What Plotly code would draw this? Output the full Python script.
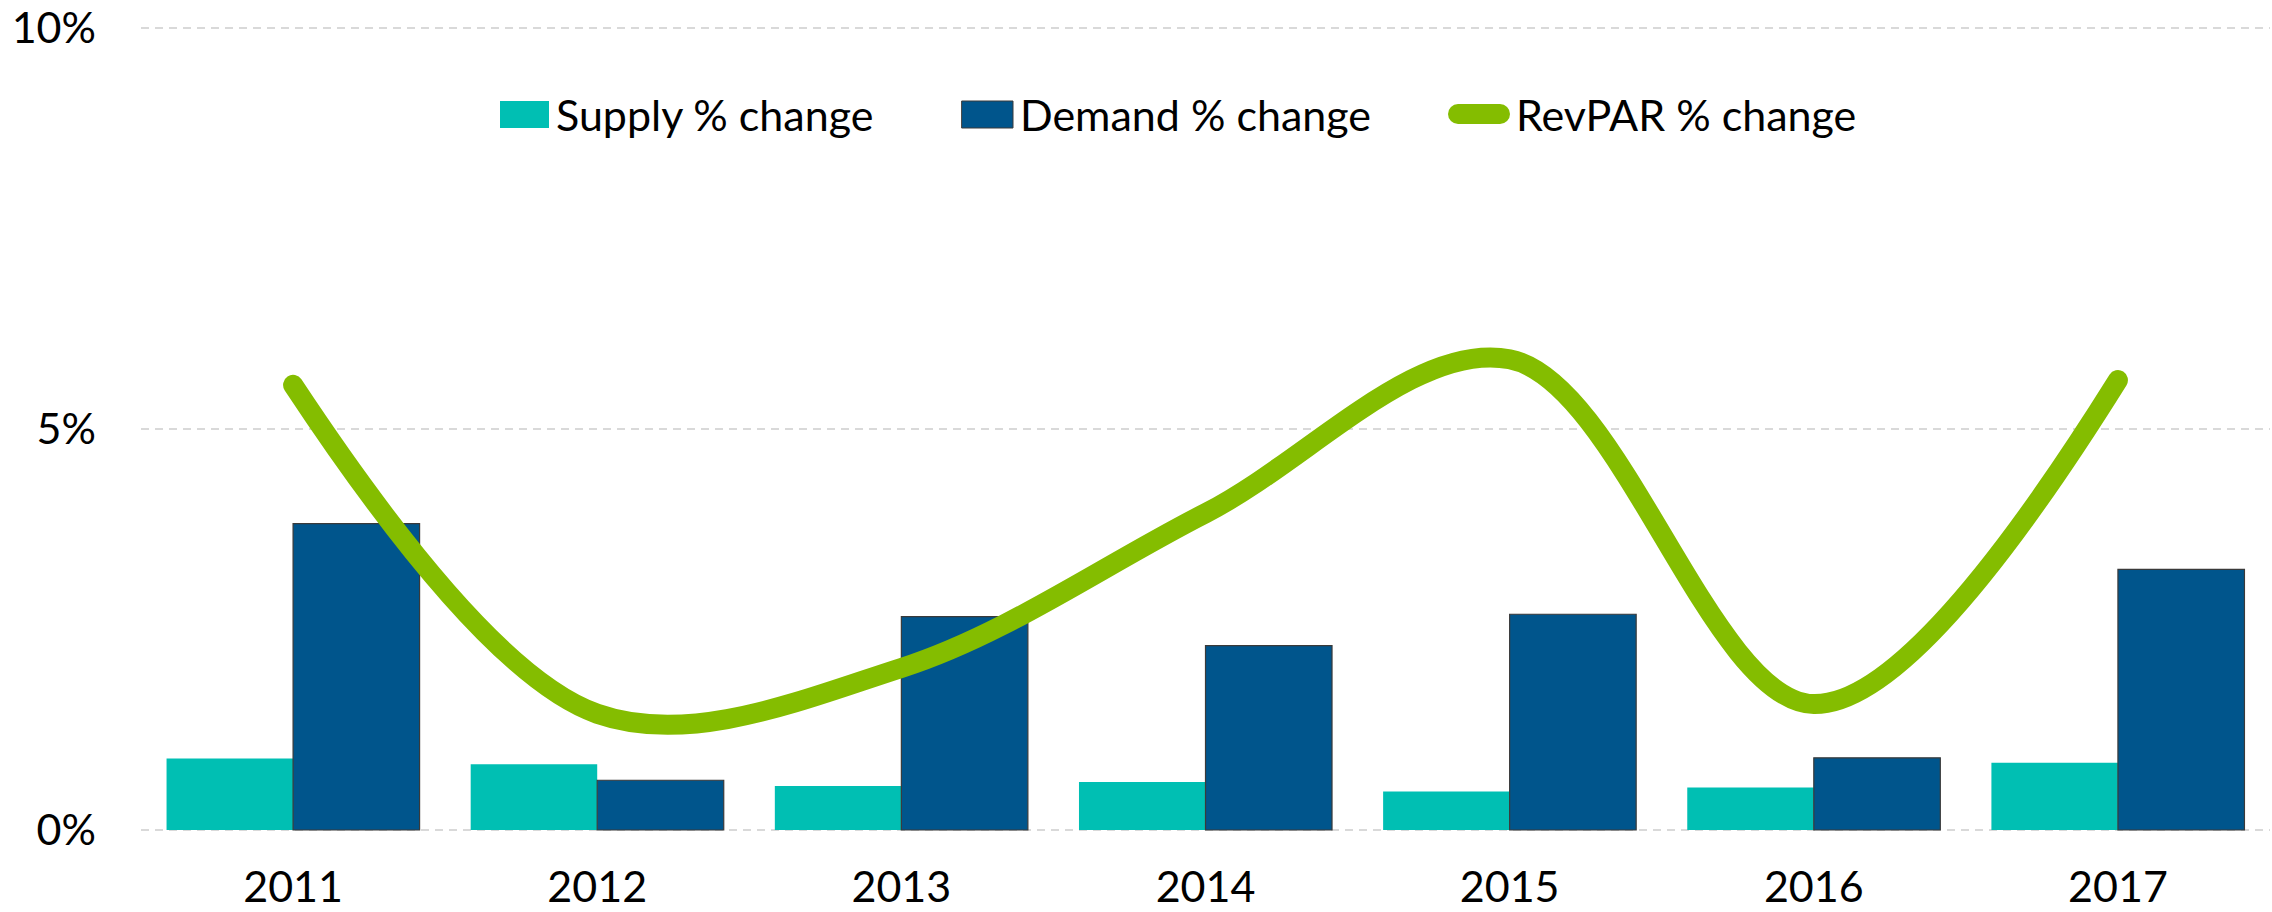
import plotly.graph_objects as go

years = ['2011', '2012', '2013', '2014', '2015', '2016', '2017']
supply_pct = [0.89, 0.82, 0.55, 0.60, 0.48, 0.53, 0.84]
demand_pct = [3.82, 0.62, 2.66, 2.30, 2.69, 0.90, 3.25]
revpar_pct = [5.55, 1.45, 2.02, 3.95, 5.87, 1.57, 5.61]
y_tick_vals = [0, 5, 10]
y_tick_text = ['0%', '5%', '10%']
series_names = ['Supply % change', 'Demand % change', 'RevPAR % change']

C_SUPPLY = '#00BFB3'
C_DEMAND = '#00558C'
C_REVPAR = '#84BD00'
FONT = 'Lato'

W, H = 2272, 912
ML, MR, MT, MB = 141, 2, 26, 80
PW, PH = W - ML - MR, H - MT - MB
Y_MIN, Y_MAX = -0.025, 10.025


def px(x):
    return (x - ML) / PW


def py(y):
    return (H - MB - y) / PH


fig = go.Figure()
fig.add_trace(go.Bar(x=years, y=supply_pct, name=series_names[0],
                     marker=dict(color=C_SUPPLY, line=dict(width=0)), showlegend=False))
fig.add_trace(go.Bar(x=years, y=demand_pct, name=series_names[1],
                     marker=dict(color=C_DEMAND, line=dict(width=1.2, color='#3a3a3a')),
                     showlegend=False))
fig.add_trace(go.Scatter(x=years, y=revpar_pct, name=series_names[2], mode='lines',
                         line=dict(color=C_REVPAR, width=20, shape='spline', smoothing=1.0),
                         showlegend=False))

# custom legend (Excel-style wide swatches)
shapes = []
annotations = []
leg_y = 114
shapes.append(dict(type='rect', xref='paper', yref='paper', x0=px(500), x1=px(549),
                   y0=py(128), y1=py(101), fillcolor=C_SUPPLY, line=dict(width=0)))
annotations.append(dict(xref='paper', yref='paper', x=px(554), y=py(leg_y), text=series_names[0],
                        showarrow=False, xanchor='left', yanchor='middle',
                        font=dict(family=FONT, size=43, color='#000000')))
shapes.append(dict(type='rect', xref='paper', yref='paper', x0=px(962), x1=px(1013),
                   y0=py(128), y1=py(101), fillcolor=C_DEMAND, line=dict(width=1, color='#3a3a3a')))
annotations.append(dict(xref='paper', yref='paper', x=px(1018), y=py(leg_y), text=series_names[1],
                        showarrow=False, xanchor='left', yanchor='middle',
                        font=dict(family=FONT, size=43, color='#000000')))
shapes.append(dict(type='line', xref='paper', yref='paper', x0=px(1458), x1=px(1500),
                   y0=py(114), y1=py(114), line=dict(color=C_REVPAR, width=20)))
annotations.append(dict(xref='paper', yref='paper', x=px(1514), y=py(leg_y), text=series_names[2],
                        showarrow=False, xanchor='left', yanchor='middle',
                        font=dict(family=FONT, size=43, color='#000000')))

fig.update_layout(
    width=W, height=H,
    margin=dict(l=ML, r=MR, t=MT, b=MB, pad=0, autoexpand=False),
    paper_bgcolor='white', plot_bgcolor='white',
    barmode='group', bargap=0.168, bargroupgap=0,
    font=dict(family=FONT, size=43, color='#000000'),
    showlegend=False,
    shapes=shapes, annotations=annotations,
    xaxis=dict(type='category', showgrid=False, zeroline=False, showline=False,
               ticks='', ticklabelstandoff=26, automargin=False,
               tickfont=dict(family=FONT, size=43, color='#000000')),
    yaxis=dict(range=[Y_MIN, Y_MAX], tickvals=y_tick_vals, ticktext=y_tick_text,
               showgrid=True, gridcolor='#D9D9D9', gridwidth=2, griddash='8px,6px',
               zeroline=False, showline=False, ticks='', ticklabelstandoff=44,
               automargin=False,
               tickfont=dict(family=FONT, size=43, color='#000000')),
)

post = """
document.body.style.margin='0';
var gd = document.querySelector('.plotly-graph-div');
function roundCaps(){
  document.querySelectorAll('.scatterlayer path.js-line').forEach(function(p){p.style.strokeLinecap='round';p.style.strokeLinejoin='round';});
  document.querySelectorAll('.shapelayer path').forEach(function(p){p.style.strokeLinecap='round';});
}
roundCaps();
if (gd && gd.on) { gd.on('plotly_afterplot', roundCaps); }
"""

fig.write_html("out.html", config={'displayModeBar': False}, post_script=post)
